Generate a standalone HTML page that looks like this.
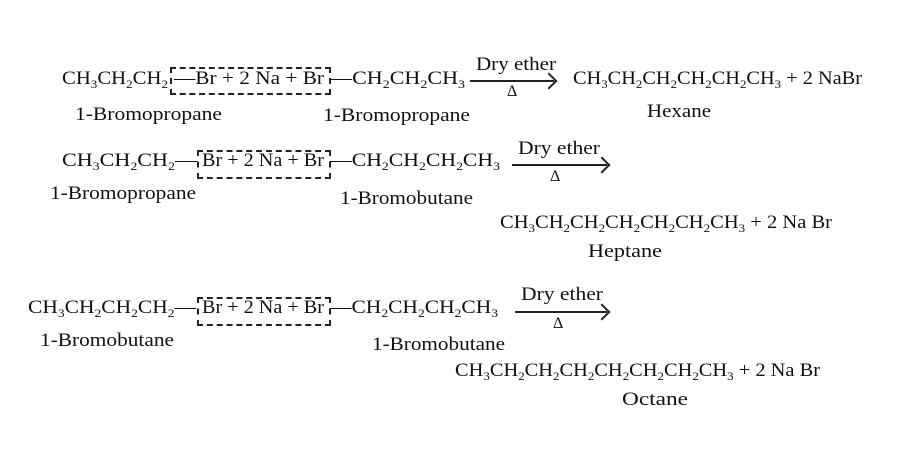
<!DOCTYPE html>
<html><head><meta charset="utf-8"><style>
html,body{margin:0;padding:0;background:#fff;}
body{width:907px;height:454px;position:relative;overflow:hidden;font-family:"Liberation Serif",serif;color:#111;}
.t{position:absolute;white-space:nowrap;font-size:19px;line-height:19px;transform-origin:0 0;}
sub{font-size:12px;vertical-align:-4px;line-height:0;}
.box{position:absolute;border:2px dashed #222;}
.ar{position:absolute;height:2px;background:#222;}
.ar:after{content:"";position:absolute;right:-1px;top:-5px;width:10px;height:10px;border-right:2px solid #222;border-top:2px solid #222;transform:rotate(45deg);transform-origin:center;}
.d{font-size:16px;line-height:16px;}
</style></head><body>

<!-- Row 1 -->
<div class="t" id="a1" style="left:62px;top:69px">CH<sub>3</sub>CH<sub>2</sub>CH<sub>2</sub></div>
<div class="box" style="left:170px;top:67px;width:157px;height:24px"></div>
<div class="t" id="a2" style="left:174px;top:69px">—Br + 2 Na + Br</div>
<div class="t" id="a3" style="left:330px;top:69px">—CH<sub>2</sub>CH<sub>2</sub>CH<sub>3</sub></div>
<div class="t" id="a4" style="left:476px;top:55px">Dry ether</div>
<div class="ar" style="left:470px;top:80px;width:84px"></div>
<div class="t d" style="left:507px;top:84px">Δ</div>
<div class="t" id="a5" style="left:573px;top:69px">CH<sub>3</sub>CH<sub>2</sub>CH<sub>2</sub>CH<sub>2</sub>CH<sub>2</sub>CH<sub>3</sub> + 2 NaBr</div>
<div class="t" id="a6" style="left:75px;top:105px">1-Bromopropane</div>
<div class="t" id="a7" style="left:323px;top:106px">1-Bromopropane</div>
<div class="t" id="a8" style="left:647px;top:102px">Hexane</div>

<!-- Row 2 -->
<div class="t" id="b1" style="left:62px;top:151px">CH<sub>3</sub>CH<sub>2</sub>CH<sub>2</sub>—</div>
<div class="box" style="left:197px;top:150px;width:130px;height:25px"></div>
<div class="t" id="b2" style="left:202px;top:151px">Br + 2 Na + Br</div>
<div class="t" id="b3" style="left:330px;top:151px">—CH<sub>2</sub>CH<sub>2</sub>CH<sub>2</sub>CH<sub>3</sub></div>
<div class="t" id="b4" style="left:518px;top:139px">Dry ether</div>
<div class="ar" style="left:512px;top:164px;width:95px"></div>
<div class="t d" style="left:550px;top:169px">Δ</div>
<div class="t" id="b6" style="left:50px;top:184px">1-Bromopropane</div>
<div class="t" id="b7" style="left:340px;top:189px">1-Bromobutane</div>
<div class="t" id="b5" style="left:500px;top:213px">CH<sub>3</sub>CH<sub>2</sub>CH<sub>2</sub>CH<sub>2</sub>CH<sub>2</sub>CH<sub>2</sub>CH<sub>3</sub> + 2 Na Br</div>
<div class="t" id="b8" style="left:588px;top:242px">Heptane</div>

<!-- Row 3 -->
<div class="t" id="c1" style="left:28px;top:298px">CH<sub>3</sub>CH<sub>2</sub>CH<sub>2</sub>CH<sub>2</sub>—</div>
<div class="box" style="left:197px;top:297px;width:130px;height:25px"></div>
<div class="t" id="c2" style="left:202px;top:298px">Br + 2 Na + Br</div>
<div class="t" id="c3" style="left:330px;top:298px">—CH<sub>2</sub>CH<sub>2</sub>CH<sub>2</sub>CH<sub>3</sub></div>
<div class="t" id="c4" style="left:521px;top:285px">Dry ether</div>
<div class="ar" style="left:515px;top:311px;width:92px"></div>
<div class="t d" style="left:553px;top:316px">Δ</div>
<div class="t" id="c6" style="left:40px;top:331px">1-Bromobutane</div>
<div class="t" id="c7" style="left:372px;top:335px">1-Bromobutane</div>
<div class="t" id="c5" style="left:455px;top:361px">CH<sub>3</sub>CH<sub>2</sub>CH<sub>2</sub>CH<sub>2</sub>CH<sub>2</sub>CH<sub>2</sub>CH<sub>2</sub>CH<sub>3</sub> + 2 Na Br</div>
<div class="t" id="c8" style="left:622px;top:390px">Octane</div>

<script>
var W={a1:106,a2:150,a3:135,a4:80,a5:289,a6:147,a7:147,a8:64,
b1:135,b2:122,b3:170,b4:82,b5:332,b6:146,b7:133,b8:74,
c1:168,c2:122,c3:168,c4:82,c5:365,c6:134,c7:133,c8:66};
for(var k in W){var e=document.getElementById(k);var w=e.getBoundingClientRect().width;if(w>0)e.style.transform="scaleX("+(W[k]/w)+")";}
</script>
</body></html>
